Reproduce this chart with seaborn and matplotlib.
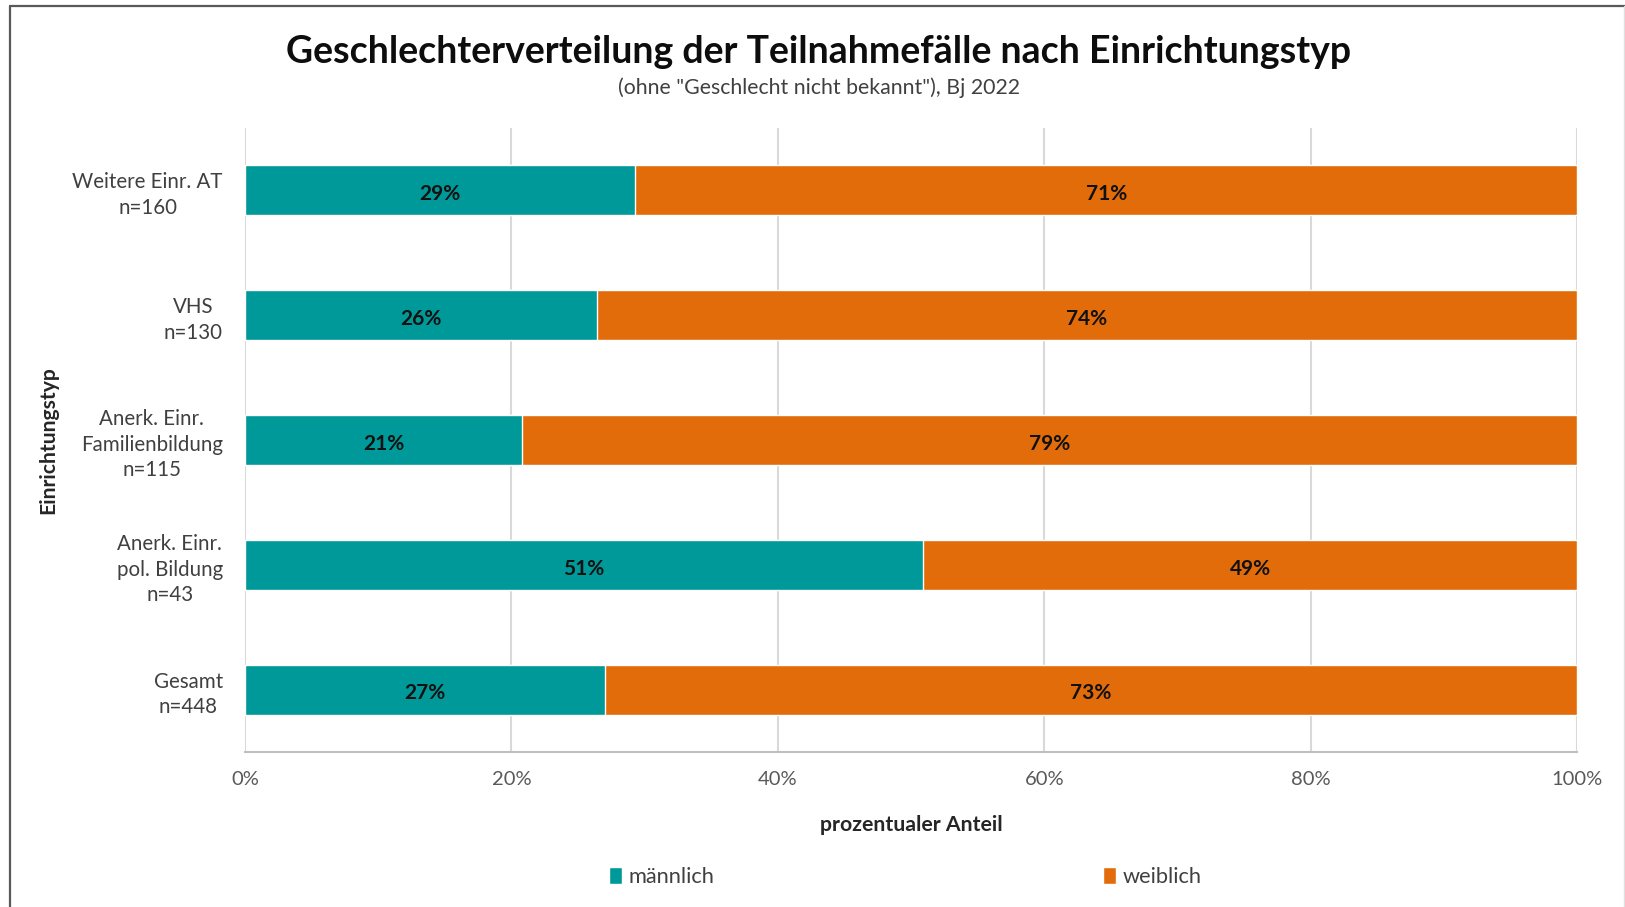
import numpy as np
import pandas as pd
import matplotlib.pyplot as plt
import seaborn as sns
from matplotlib.patches import Patch
from matplotlib.lines import Line2D

# Daten
categories = ["Weitere Einr. AT\nn=160", "VHS\nn=130",
              "Anerk. Einr.\nFamilienbildung\nn=115",
              "Anerk. Einr.\npol. Bildung\nn=43", "Gesamt\nn=448"]
maennlich = [29.3, 26.4, 20.8, 50.9, 27.0]
weiblich = [70.7, 73.6, 79.2, 49.1, 73.0]
series_names = ["männlich", "weiblich"]
xticks = [0, 20, 40, 60, 80, 100]
xticklabels = ["0%", "20%", "40%", "60%", "80%", "100%"]

TEAL = "#009999"
ORANGE = "#E36C0A"

df = pd.DataFrame({"typ": categories, "m": maennlich, "w": weiblich})
df["cum"] = df["m"] + df["w"]

sns.set_theme(style="white")
plt.rcParams["font.family"] = ["Lato", "DejaVu Sans"]

fig = plt.figure(figsize=(16.25, 9.07), dpi=100)
ax = fig.add_axes([0.1508, 0.1709, 0.8197, 0.688])

sns.barplot(data=df, x="cum", y="typ", orient="h", color=ORANGE,
            width=0.4, saturation=1, ax=ax, zorder=3)
sns.barplot(data=df, x="m", y="typ", orient="h", color=TEAL,
            width=0.4, saturation=1, ax=ax, zorder=3)

for i, row in df.iterrows():
    ax.text(row["m"] / 2, i + 0.03, f"{round(row['m'])}%", ha="center", va="center",
            fontsize=15, fontweight="bold", color="#111111", zorder=4)
    ax.text(row["m"] + row["w"] / 2, i + 0.03, f"{round(row['w'])}%", ha="center",
            va="center", fontsize=15, fontweight="bold", color="#111111", zorder=4)

ax.set_xlim(0, 100)
ax.set_ylim(4.5, -0.5)
ax.set_xticks(xticks)
ax.set_xticklabels(xticklabels)
ax.set_xlabel("")
ax.set_ylabel("")
ax.grid(axis="x", color="#d9d9d9", lw=1.5, zorder=0)
ax.grid(axis="y", visible=False)
for s in ["top", "right", "left"]:
    ax.spines[s].set_visible(False)
ax.spines["bottom"].set_color("#bfbfbf")
ax.spines["bottom"].set_linewidth(1.5)
ax.tick_params(axis="x", length=0, pad=14, labelsize=14.5, labelcolor="#595959")
ax.tick_params(axis="y", length=0, pad=16, labelsize=14.8, labelcolor="#404040")
for lab in ax.get_yticklabels():
    lab.set_multialignment("center")
    lab.set_linespacing(1.35)

fig.text(0.504, 0.943, "Geschlechterverteilung der Teilnahmefälle nach Einrichtungstyp",
         ha="center", va="center", fontsize=27, fontweight="bold", color="#0d0d0d")
fig.text(0.504, 0.903, '(ohne "Geschlecht nicht bekannt"), Bj 2022',
         ha="center", va="center", fontsize=15.3, color="#404040")
fig.text(0.5606, 0.090, "prozentualer Anteil", ha="center", va="center",
         fontsize=15.3, fontweight="bold", color="#262626")
fig.text(0.030, 0.5145, "Einrichtungstyp", ha="center", va="center", rotation=90,
         fontsize=15.2, fontweight="bold", color="#262626")

handles = [Patch(facecolor=TEAL), Patch(facecolor=ORANGE)]
fig.legend(handles, series_names, loc="center", bbox_to_anchor=(0.557, 0.033),
           ncol=2, frameon=False, fontsize=15.7, handlelength=0.6, handleheight=0.8,
           handletextpad=0.3, columnspacing=17.8, labelcolor="#404040")

# Rahmen
fig.add_artist(Line2D([9.5 / 1625, 1], [1 - 6 / 907, 1 - 6 / 907],
                      transform=fig.transFigure, color="#595959", lw=1.6))
fig.add_artist(Line2D([9.5 / 1625, 9.5 / 1625], [0, 1 - 6 / 907],
                      transform=fig.transFigure, color="#595959", lw=1.6))
fig.add_artist(Line2D([1624 / 1625, 1624 / 1625], [0, 1 - 6 / 907],
                      transform=fig.transFigure, color="#e0e0e0", lw=1))

fig.savefig("out.png", dpi=100)
